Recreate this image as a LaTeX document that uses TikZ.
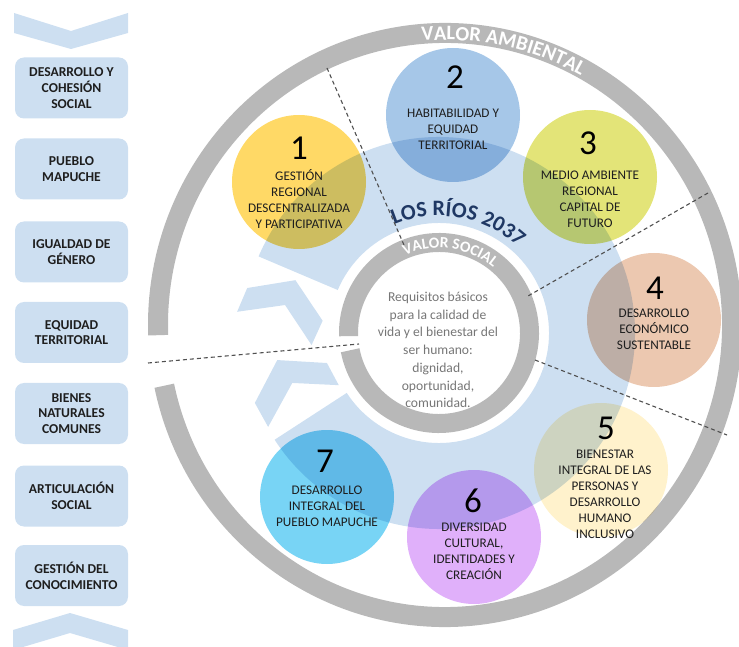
\documentclass[tikz,border=0pt]{standalone}
\usepackage{fontspec}
\setmainfont{Carlito}
\usetikzlibrary{calc,decorations.text}

\definecolor{banda}{RGB}{205,223,241}
\definecolor{gris}{RGB}{184,184,184}
\definecolor{grisosc}{RGB}{80,80,80}
\definecolor{grisTexto}{RGB}{118,118,118}
\definecolor{tinta}{RGB}{30,30,30}
\definecolor{marino}{RGB}{31,56,100}
\definecolor{amarillo}{RGB}{255,217,102}
\definecolor{azul}{RGB}{166,199,232}
\definecolor{oliva}{RGB}{227,228,120}
\definecolor{salmon}{RGB}{236,200,176}
\definecolor{crema}{RGB}{255,242,204}
\definecolor{lila}{RGB}{224,176,250}
\definecolor{celeste}{RGB}{120,212,245}

\tikzset{
  caja/.style={rounded corners=9pt, fill=banda, minimum width=113pt, minimum height=61pt,
    align=center, text=tinta, font=\bfseries\fontsize{13.6}{15.8}\selectfont},
  bola/.style={circle, minimum size=134pt, inner sep=0pt},
  num/.style={font=\fontsize{35}{35}\selectfont},
  etiq/.style={align=center, text=tinta, font=\fontsize{13.2}{16}\selectfont},
  sep/.style={grisosc, line width=1.1pt, dash pattern=on 4pt off 3pt},
}

\begin{document}
\begin{tikzpicture}[x=1pt,y=1pt]
	\useasboundingbox (0,0) rectangle (739,646);
	\coordinate (C0) at (445,321); % centro anillo exterior
	\coordinate (C1) at (439,313); % centro anillo interior

	% banda circular
	\begin{scope}[shift={(C1)}]
		\fill[banda] (213:196) arc[start angle=213, end angle=517, radius=196] -- (517:110) arc[start angle=517, end angle=213, radius=110] -- cycle;
		\fill[banda] (166.8:197) -- (159.8:153) -- (174:117) -- (185.4:128) -- (169.7:156.5) -- (174:203) -- cycle;
		\fill[banda] (189.5:164) -- (195:116) -- (207.5:113) -- (198.8:155) -- (208.8:195) -- (200.8:197) -- cycle;
	\end{scope}

	\draw[gris, line width=20pt] ($(C0)+(192:287 and 292)$) arc[start angle=192, end angle=542, x radius=287, y radius=292]; % valor ambiental
	\draw[gris, line width=19pt] ($(C1)+(191:90.5)$) arc[start angle=191, end angle=542, radius=90.5]; % valor social

	\path[decorate, decoration={text along path, text align=center, text color=white,
		text={|\bfseries\fontsize{20.5}{20.5}\selectfont|VALOR AMBIENTAL}}]
		($(C0)+(146:280 and 285)$) arc[start angle=146, end angle=10, x radius=280, y radius=285];
	\path[decorate, decoration={text along path, text align=center, text color=white,
		text={|\bfseries\fontsize{15.5}{15.5}\selectfont|VALOR SOCIAL}}]
		($(C1)+(150:85)$) arc[start angle=150, end angle=14, radius=85];
	\path[decorate, decoration={text along path, text align=center, text color=marino,
		text={|\bfseries\fontsize{22}{22}\selectfont|LOS RÍOS 2037}}]
		($(C1)+(150:117)$) arc[start angle=150, end angle=10, radius=117];

	% separadores
	\coordinate (d1a) at (327,578); \coordinate (d1b) at (404,401);
	\coordinate (d2a) at (708,453); \coordinate (d2b) at (528,350);
	\coordinate (d3a) at (535,286); \coordinate (d3b) at (727,211);
	\coordinate (d4a) at (148,283); \coordinate (d4b) at (359,302);
	\draw[sep] (d1a) -- (d1b);
	\draw[sep] (d2a) -- (d2b);
	\draw[sep] (d3a) -- (d3b);
	\draw[sep] (d4a) -- (d4b);

	% ejes
	\begin{scope}[blend mode=multiply]
		\node[bola, fill=amarillo] (c1) at (299,464) {};
		\node[bola, fill=azul] (c2) at (453,531) {};
		\node[bola, fill=oliva] (c3) at (590,469) {};
		\node[bola, fill=salmon] (c4) at (654,326) {};
		\node[bola, fill=crema] (c5) at (601,176) {};
		\node[bola, fill=lila] (c6) at (474,109) {};
		\node[bola, fill=celeste] (c7) at (327,149) {};
	\end{scope}

	\node[num] (n1) at (299,498) {1};
	\node[num] (n2) at (455,569) {2};
	\node[num] (n3) at (588,503) {3};
	\node[num] (n4) at (655,358) {4};
	\node[num] (n5) at (606,218) {5};
	\node[num] (n6) at (473,145) {6};
	\node[num] (n7) at (325,185) {7};

	\node[etiq] (t1) at (299,447) {GESTIÓN\\REGIONAL\\DESCENTRALIZADA\\Y PARTICIPATIVA};
	\node[etiq] (t2) at (453,517) {HABITABILIDAD Y\\EQUIDAD\\TERRITORIAL};
	\node[etiq] (t3) at (590,447) {MEDIO AMBIENTE\\REGIONAL\\CAPITAL DE\\FUTURO};
	\node[etiq] (t4) at (654,317) {DESARROLLO\\ECONÓMICO\\SUSTENTABLE};
	\node[etiq] (t5) at (605,152) {BIENESTAR\\INTEGRAL DE LAS\\PERSONAS Y\\DESARROLLO\\HUMANO\\INCLUSIVO};
	\node[etiq] (t6) at (474,95) {DIVERSIDAD\\CULTURAL,\\IDENTIDADES Y\\CREACIÓN};
	\node[etiq] (t7) at (327,140) {DESARROLLO\\INTEGRAL DEL\\PUEBLO MAPUCHE};

	\node[align=center, text=grisTexto, font=\fontsize{13.6}{17.7}\selectfont] (req) at (438,296) {Requisitos básicos\\para la calidad de\\vida y el bienestar del\\ser humano:\\dignidad,\\oportunidad,\\comunidad.};

	% enfoques
	\fill[banda] (14,633) -- (71,615) -- (128,633) -- (128,613) -- (71,597) -- (14,613) -- cycle;
	\node[caja] (b1) at (71.5,558) {DESARROLLO Y\\COHESIÓN\\SOCIAL};
	\node[caja] (b2) at (71.5,477) {PUEBLO\\MAPUCHE};
	\node[caja] (b3) at (71.5,394) {IGUALDAD DE\\GÉNERO};
	\node[caja] (b4) at (71.5,313.5) {EQUIDAD\\TERRITORIAL};
	\node[caja] (b5) at (71.5,232.5) {BIENES\\NATURALES\\COMUNES};
	\node[caja] (b6) at (71.5,150) {ARTICULACIÓN\\SOCIAL};
	\node[caja] (b7) at (71.5,70.5) {GESTIÓN DEL\\CONOCIMIENTO};
	\fill[banda] (13,16) -- (70,33) -- (128,16) -- (128,-4) -- (70,13) -- (13,-4) -- cycle;
\end{tikzpicture}
\end{document}
